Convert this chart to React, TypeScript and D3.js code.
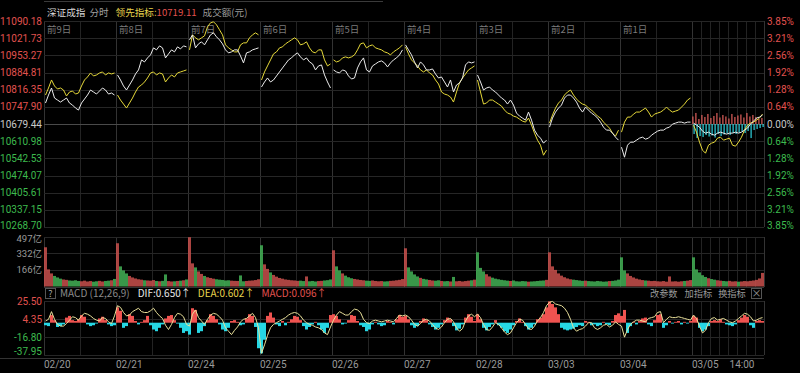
import React, { useEffect, useRef } from "react";
import * as d3 from "d3";

// 十日分时 (深证成指 + 领先指标), volume and MACD
const dates = ["02/20", "02/21", "02/24", "02/25", "02/26", "02/27", "02/28", "03/03", "03/04", "03/05"];
const dayTags = ["前9日", "前8日", "前7日", "前6日", "前5日", "前4日", "前3日", "前2日", "前1日", ""];
const preClose = 10679.44;
const priceTicks = [11090.18, 11021.73, 10953.27, 10884.81, 10816.35, 10747.9, 10679.44, 10610.98, 10542.53, 10474.07, 10405.61, 10337.15, 10268.7];
const pctTicks = ["3.85%", "3.21%", "2.56%", "1.92%", "1.28%", "0.64%", "0.00%", "0.64%", "1.28%", "1.92%", "2.56%", "3.21%", "3.85%"];
const volTicks = [497, 332, 166];
const macdTicks = [25.5, 4.35, -16.8, -37.95];

// white line: index, one row per day
const indexLine = [
  [10763, 10795, 10823, 10783, 10775, 10767, 10775, 10783, 10763, 10755, 10743, 10735, 10763, 10779, 10795, 10815, 10807, 10799, 10811, 10823, 10815, 10799, 10803, 10795],
  [10875, 10855, 10831, 10815, 10835, 10855, 10879, 10895, 10935, 10927, 10943, 10955, 10983, 10975, 10991, 10983, 10943, 10959, 10975, 10967, 10987, 10979, 10991, 10987],
  [11015, 11035, 10983, 10999, 11007, 10995, 11015, 11035, 11043, 11027, 11015, 10999, 10975, 10963, 10967, 10975, 10975, 10951, 10923, 10963, 10967, 10975, 10979, 10983],
  [10827, 10847, 10863, 10847, 10855, 10871, 10887, 10903, 10919, 10935, 10943, 10955, 10963, 10947, 10935, 10943, 10927, 10919, 10895, 10911, 10915, 10875, 10847, 10823],
  [10895, 10887, 10883, 10895, 10891, 10871, 10859, 10863, 10903, 10927, 10943, 10895, 10887, 10911, 10919, 10927, 10931, 10923, 10907, 10923, 10935, 10943, 10955, 10975],
  [10995, 10975, 10955, 10927, 10903, 10927, 10915, 10895, 10895, 10899, 10879, 10863, 10867, 10847, 10827, 10855, 10807, 10835, 10843, 10863, 10915, 10927, 10923, 10927],
  [10875, 10847, 10815, 10823, 10827, 10815, 10807, 10795, 10783, 10775, 10759, 10775, 10755, 10723, 10711, 10703, 10695, 10727, 10695, 10655, 10635, 10623, 10603, 10615],
  [10667, 10703, 10727, 10743, 10755, 10783, 10795, 10795, 10783, 10767, 10743, 10727, 10747, 10735, 10723, 10715, 10703, 10687, 10667, 10655, 10655, 10643, 10627, 10615],
  [10587, 10547, 10595, 10607, 10607, 10615, 10623, 10627, 10619, 10623, 10635, 10643, 10651, 10655, 10655, 10663, 10667, 10679, 10683, 10687, 10687, 10683, 10687, 10687],
  [10683, 10675, 10667, 10651, 10643, 10647, 10639, 10635, 10643, 10647, 10643, 10639, 10643, 10643, 10647, 10643, 10647, 10655, 10663, 10679, 10691, 10703, 10707, 10715],
];

// yellow line: 领先指标
const leadLine = [
  [10795, 10823, 10855, 10831, 10819, 10823, 10815, 10791, 10807, 10811, 10799, 10803, 10831, 10855, 10867, 10883, 10871, 10875, 10883, 10887, 10875, 10883, 10879, 10883],
  [10795, 10775, 10759, 10743, 10763, 10783, 10807, 10827, 10835, 10847, 10863, 10883, 10887, 10875, 10883, 10879, 10847, 10863, 10875, 10867, 10883, 10887, 10891, 10895],
  [10975, 11035, 11023, 11015, 11023, 11031, 11067, 11083, 11087, 11075, 11055, 11035, 10995, 10983, 10975, 10967, 10967, 10995, 11003, 11003, 11023, 11035, 11043, 11035],
  [10855, 10887, 10911, 10935, 10959, 10967, 10983, 10987, 10999, 11007, 11015, 11023, 11015, 10995, 10999, 11007, 10983, 10967, 10963, 10975, 10975, 10935, 10911, 10919],
  [10935, 10927, 10931, 10943, 10947, 10943, 10947, 10955, 10975, 10999, 11003, 10983, 10991, 10995, 10983, 10979, 10975, 10967, 10963, 10955, 10967, 10975, 10983, 10995],
  [10987, 10959, 10935, 10923, 10911, 10895, 10887, 10895, 10883, 10875, 10855, 10839, 10807, 10799, 10795, 10787, 10767, 10807, 10843, 10863, 10879, 10895, 10903, 10911],
  [10855, 10807, 10759, 10763, 10775, 10775, 10767, 10759, 10751, 10735, 10723, 10719, 10711, 10707, 10699, 10691, 10687, 10703, 10675, 10643, 10615, 10595, 10555, 10575],
  [10683, 10715, 10743, 10763, 10775, 10795, 10807, 10815, 10795, 10779, 10767, 10759, 10755, 10743, 10735, 10723, 10711, 10703, 10687, 10675, 10663, 10643, 10631, 10655],
  [10647, 10687, 10707, 10707, 10719, 10727, 10727, 10735, 10743, 10727, 10707, 10719, 10723, 10727, 10735, 10747, 10735, 10727, 10731, 10735, 10747, 10759, 10775, 10783],
  [10675, 10647, 10607, 10575, 10563, 10595, 10603, 10607, 10623, 10627, 10615, 10619, 10623, 10595, 10591, 10607, 10627, 10655, 10675, 10683, 10687, 10695, 10703, 10719.11],
];

// today's red / cyan strength bars around the previous close (index points)
const todayBuy = [30, 44, 20, 36, 28, 40, 24, 32, 44, 26, 36, 30, 22, 40, 28, 34, 38, 26, 44, 30, 36, 28, 20, 24];
const todaySell = [40, 56, 48, 52, 44, 50, 46, 54, 40, 48, 42, 38, 44, 36, 40, 34, 30, 36, 28, 56, 24, 20, 16, 12];

// 成交额 (亿)
const volume = [
  [390, 170, 130, 105, 90, 78, 70, 66, 60, 58, 62, 55, 52, 58, 50, 54, 48, 52, 56, 50, 55, 58, 62, 75],
  [430, 200, 160, 130, 105, 90, 80, 72, 68, 62, 60, 58, 64, 55, 52, 56, 120, 54, 50, 52, 55, 58, 62, 70],
  [490, 230, 190, 150, 125, 105, 92, 85, 78, 72, 68, 65, 60, 62, 58, 56, 55, 110, 52, 55, 58, 60, 64, 72],
  [410, 220, 175, 140, 115, 98, 85, 78, 70, 66, 62, 60, 56, 58, 54, 100, 52, 55, 50, 54, 56, 60, 63, 70],
  [360, 200, 160, 130, 108, 92, 82, 75, 70, 65, 62, 58, 56, 60, 55, 52, 54, 50, 52, 56, 58, 62, 66, 74],
  [380, 190, 150, 120, 100, 86, 76, 70, 65, 60, 58, 62, 55, 52, 54, 50, 95, 52, 55, 50, 54, 58, 62, 68],
  [340, 185, 150, 122, 100, 88, 78, 72, 66, 62, 58, 55, 60, 52, 50, 54, 52, 48, 50, 52, 55, 58, 60, 66],
  [340, 200, 165, 130, 108, 92, 80, 72, 68, 64, 60, 56, 58, 54, 52, 50, 55, 52, 48, 50, 54, 56, 60, 68],
  [290, 160, 130, 105, 90, 78, 70, 64, 60, 58, 54, 56, 52, 50, 54, 48, 100, 50, 52, 48, 52, 55, 58, 64],
  [290, 170, 140, 112, 95, 82, 74, 68, 62, 58, 55, 52, 56, 50, 52, 48, 50, 54, 52, 56, 60, 66, 80, 135],
];

// MACD histogram and DIF line
const macdHist = [
  [-3, -4, 9, 3, -5, -4, -2, 6, 8, 3, 2, 4, 9, 7, -2, -4, -3, -1, 5, 7, 3, -2, -4, -3],
  [18, 14, -6, -4, 10, 8, 2, -2, 1, 3, 8, -3, -8, -10, -6, -2, 5, 8, 9, 3, -1, -6, -12, -10],
  [-14, 17, 15, -12, -10, -4, 3, 10, 8, 4, -2, -8, -10, -6, 2, 3, 1, -3, -2, 5, 10, 8, -5, -30],
  [-36, -20, 8, 12, 6, -2, -4, 2, -3, 1, 4, 8, 7, 3, -4, -8, -5, -2, 1, -3, -8, -12, -6, 9],
  [10, 8, 4, -2, -1, 3, 9, 8, 2, -3, -5, -10, -8, -2, 1, -2, -4, -3, 2, 1, -2, 4, 9, 7],
  [8, 4, -3, -6, -4, 2, 5, 3, -2, -5, -8, -6, -2, 3, 6, 4, -4, -9, -7, -2, 6, 10, 7, 2],
  [10, 4, -6, -9, -5, -2, 3, -3, -6, -10, -12, -8, -3, 2, 5, 1, -4, -8, -6, -2, 4, 6, 10, 18],
  [25, 22, 18, 10, -6, -8, -9, -8, -7, -5, -3, -4, 2, 1, -3, -2, -4, -3, 1, -2, -3, 2, 9, 11],
  [8, 15, -12, -4, 1, -2, 2, 5, 6, -2, -4, 3, 9, 10, -6, -3, 2, -1, 1, 2, -2, 1, -1, 2],
  [8, 6, -6, -10, -8, -4, 2, 3, 2, 4, 1, -2, -3, -4, -2, 3, 6, 9, 7, -3, -6, 2, 3, 2],
];
const macdDif = [
  [2, 4, 13, 4, -2, -4, -4, -1, 3, 7, 6, 3, 8, 11, 10, 8, 5, 3, 2, 6, 5, 1, -1, 8],
  [20, 18, 12, 8, 9, 13, 15, 17, 13, 12, 12, 14, 17, 12, 8, 5, -3, -8, -2, 6, 11, 10, 7, -2],
  [-4, 10, 15, 6, 2, -2, 4, 9, 11, 10, 7, 3, -6, -10, -14, -9, -5, 1, 4, 5, 8, 11, 6, -6],
  [-36, -26, -15, -6, -2, 0, 2, 4, 6, 9, 11, 12, 11, 8, 3, 0, -2, -3, -5, -6, -8, -12, -14, -5],
  [3, 9, 13, 11, 9, 9, 13, 16, 15, 12, 4, 0, -1, 2, 3, 2, 1, 2, 3, 2, 1, 5, 9, 8],
  [9, 7, 3, -2, -4, -1, 3, 4, 2, -2, -6, -8, -5, 0, 4, 5, 1, -6, -10, -7, 2, 8, 10, 7],
  [10, 6, -2, -8, -9, -5, 0, -2, -6, -11, -14, -12, -6, 0, 4, 3, -2, -7, -8, -4, 2, 6, 12, 20],
  [24, 25, 22, 21, 20, 17, 12, 4, -6, -10, -8, -7, -4, 0, 0, -6, -8, -6, -3, -2, -5, -3, 1, -2],
  [-4, -17, -8, -2, 1, 3, 3, 2, 1, 5, 6, 7, 12, 13, 0, 4, 7, 6, 6, 7, 6, 5, 4, 3],
  [9, 5, -4, -12, -9, 0, 5, 6, 3, 4, 5, 3, 1, 0, 2, 5, 8, 11, 10, 7, 2, 3, 5, 6],
];

const W = 800;
const H = 373;
const X0 = 44;
const X1 = 764;
const FONT = "'Noto Sans CJK SC', 'Noto Sans', sans-serif";
const NUM_FONT = "Roboto, 'Noto Sans CJK SC', sans-serif";
const RED = "#e0524f";
const GREEN = "#3dba4e";
const GREY = "#c8c8c8";

const App = () => {
  const ref = useRef<SVGSVGElement>(null);

  useEffect(() => {
    const svg = d3.select(ref.current);
    svg.selectAll("*").remove();

    const perDay = indexLine[0].length;
    const n = dates.length * perDay;
    const x = d3.scaleLinear().domain([0, n]).range([X0, X1]);
    const yP = d3.scaleLinear().domain([10268.7, 11090.18]).range([227, 21]);
    const yV = d3.scaleLinear().domain([0, 497]).range([286.5, 236.5]);
    const yM = d3.scaleLinear().domain([-37.95, 25.5]).range([355, 301]);

    const text = (t, tx, ty, color, anchor = "start", size = 10, font = FONT) =>
      svg.append("text").attr("x", tx).attr("y", ty).attr("fill", color)
        .attr("text-anchor", anchor).attr("font-size", size).attr("font-family", font).text(t);
    // several coloured pieces in one line
    const runs = (tx, ty, parts, size = 10) => {
      const t = svg.append("text").attr("x", tx).attr("y", ty).attr("font-size", size).attr("font-family", FONT);
      parts.forEach(([s, c, dx]) => t.append("tspan").attr("dx", dx).attr("fill", c).text(s));
    };

    // top tab edge
    svg.append("line").attr("x1", 44).attr("x2", 383).attr("y1", 1.5).attr("y2", 1.5).attr("stroke", "#3a3a3a");

    // vertical grid
    const panes = [[21, 227], [236.5, 286.5], [301, 355]];
    const gridG = svg.append("g").attr("shape-rendering", "crispEdges");
    dates.forEach((_, d) => {
      const xs = [d * perDay, d * perDay + perDay / 2];
      if (d === dates.length - 1) {
        for (let k = 1; k < 8; k++) if (k !== 4) xs.push(d * perDay + (k * perDay) / 8);
      }
      xs.forEach((v, j) => {
        panes.forEach(([a, b]) => {
          gridG.append("line").attr("x1", Math.round(x(v)) + 0.5).attr("x2", Math.round(x(v)) + 0.5)
            .attr("y1", a).attr("y2", b).attr("stroke", j === 0 ? "#333" : "#232323");
        });
      });
    });
    panes.forEach(([a, b]) => {
      gridG.append("line").attr("x1", X1 + 0.5).attr("x2", X1 + 0.5).attr("y1", a).attr("y2", b).attr("stroke", "#333");
    });

    // horizontal grid + axes labels (price)
    priceTicks.forEach((t, i) => {
      const y = Math.round(yP(t)) + 0.5;
      gridG.append("line").attr("x1", X0).attr("x2", X1).attr("y1", y).attr("y2", y)
        .attr("stroke", t === preClose ? "#4a4a4a" : "#262626");
      const c = t > preClose ? RED : t < preClose ? GREEN : GREY;
      const ly = Math.max(25, Math.min(yP(t) + 3.5, 228.5));
      text(d3.format(".2f")(t), 42, ly, c, "end", 10, NUM_FONT);
      text(pctTicks[i], 767, ly, c, "start", 10, NUM_FONT);
    });
    volTicks.forEach(t => {
      const y = Math.round(yV(t)) + 0.5;
      gridG.append("line").attr("x1", X0).attr("x2", X1).attr("y1", y).attr("y2", y).attr("stroke", "#262626");
      text(t + "亿", 42, Math.max(yV(t) + 3.5, 242), "#9a9a9a", "end", 9.5, NUM_FONT);
    });
    gridG.append("line").attr("x1", X0).attr("x2", X1).attr("y1", 287.5).attr("y2", 287.5).attr("stroke", "#333");
    macdTicks.forEach(t => {
      const y = Math.round(yM(t)) + 0.5;
      gridG.append("line").attr("x1", X0).attr("x2", X1).attr("y1", y).attr("y2", y).attr("stroke", "#262626");
      text(d3.format(".2f")(t).replace("−", "-"), 42, Math.min(yM(t), 351) + 3.5, t > 0 ? RED : GREEN, "end", 10, NUM_FONT);
    });
    gridG.append("line").attr("x1", 0).attr("x2", X1).attr("y1", 358.5).attr("y2", 358.5).attr("stroke", "#333");

    // header
    runs(47, 16, [
      ["深证成指", "#d8d8d8", 0],
      ["分时", "#a0a0a0", 4],
      ["领先指标:", "#e8d44d", 7],
      [d3.format(".2f")(leadLine[9][perDay - 1]), RED, 0],
      ["成交额(元)", "#9a9a9a", 6],
    ], 9.6);

    // day tags and dates
    dates.forEach((dt, d) => {
      text(dayTags[d], x(d * perDay) + 3, 33, "#7a7a7a", "start", 9.5);
      text(dt, x(d * perDay), 368, "#9a9a9a", "start", 10, NUM_FONT);
    });
    text("14:00", x(9 * perDay + (6 * perDay) / 8) - 4, 368, "#9a9a9a", "middle", 10, NUM_FONT);

    // today's strength bars
    const t0 = 9 * perDay;
    todayBuy.forEach((v, i) => {
      svg.append("rect").attr("x", x(t0 + i) + 0.3).attr("width", 1.2)
        .attr("y", yP(preClose + v)).attr("height", yP(preClose) - yP(preClose + v)).attr("fill", "#e0605c");
    });
    todaySell.forEach((v, i) => {
      svg.append("rect").attr("x", x(t0 + i) + 1.5).attr("width", 1.2)
        .attr("y", yP(preClose)).attr("height", yP(preClose - v) - yP(preClose)).attr("fill", "#2fd3e0");
    });

    // price lines, broken per day
    [[leadLine, "#e6d93a"], [indexLine, "#ececec"]].forEach(([series, color]) => {
      (series as number[][]).forEach((day, d) => {
        svg.append("path")
          .datum(day)
          .attr("d", d3.line<number>().x((_, i) => x(d * perDay + i + 0.5)).y(v => yP(v)))
          .attr("fill", "none").attr("stroke", color as string).attr("stroke-width", 1);
      });
    });

    // volume
    const flatIdx = indexLine.flat();
    volume.flat().forEach((v, k) => {
      const prev = k === 0 ? preClose : flatIdx[k - 1];
      svg.append("rect").attr("x", x(k)).attr("width", 3)
        .attr("y", yV(v)).attr("height", yV(0) - yV(v))
        .attr("fill", flatIdx[k] >= prev ? "#c9504c" : "#43b156").attr("opacity", 0.85);
    });

    // MACD header
    svg.append("rect").attr("x", 45.5).attr("y", 288.5).attr("width", 10).attr("height", 10)
      .attr("fill", "none").attr("stroke", "#555");
    text("?", 50.5, 297, "#aaa", "middle", 9);
    runs(60, 297, [
      ["MACD (12,26,9)", "#8a8a8a", 0],
      ["DIF:0.650↑", "#e8e8e8", 8],
      ["DEA:0.602↑", "#e8d44d", 7],
      ["MACD:0.096↑", RED, 7],
    ], 10);
    runs(650, 297, [
      ["改参数", "#9a9a9a", 0],
      ["加指标", "#9a9a9a", 7],
      ["换指标", "#9a9a9a", 6],
    ], 9.2);
    svg.append("rect").attr("x", 751.5).attr("y", 288.5).attr("width", 10).attr("height", 10)
      .attr("fill", "none").attr("stroke", "#555");
    text("×", 756.5, 297, "#999", "middle", 10);

    // MACD histogram and DIF line
    macdHist.flat().forEach((v, k) => {
      svg.append("rect").attr("x", x(k)).attr("width", 3)
        .attr("y", Math.min(yM(v), yM(0))).attr("height", Math.abs(yM(v) - yM(0)))
        .attr("fill", v >= 0 ? "#ef5350" : "#26d7e4");
    });
    svg.append("path")
      .datum(macdDif.flat())
      .attr("d", d3.line<number>().x((_, i) => x(i + 0.5)).y(v => yM(v)))
      .attr("fill", "none").attr("stroke", "#e9e09a").attr("stroke-width", 1);
  }, []);

  return (
    <div style={{ position: "absolute", left: 0, top: 0 }}>
      <svg ref={ref} width={W} height={H} style={{ display: "block", background: "#000" }} />
    </div>
  );
};

export default App;
